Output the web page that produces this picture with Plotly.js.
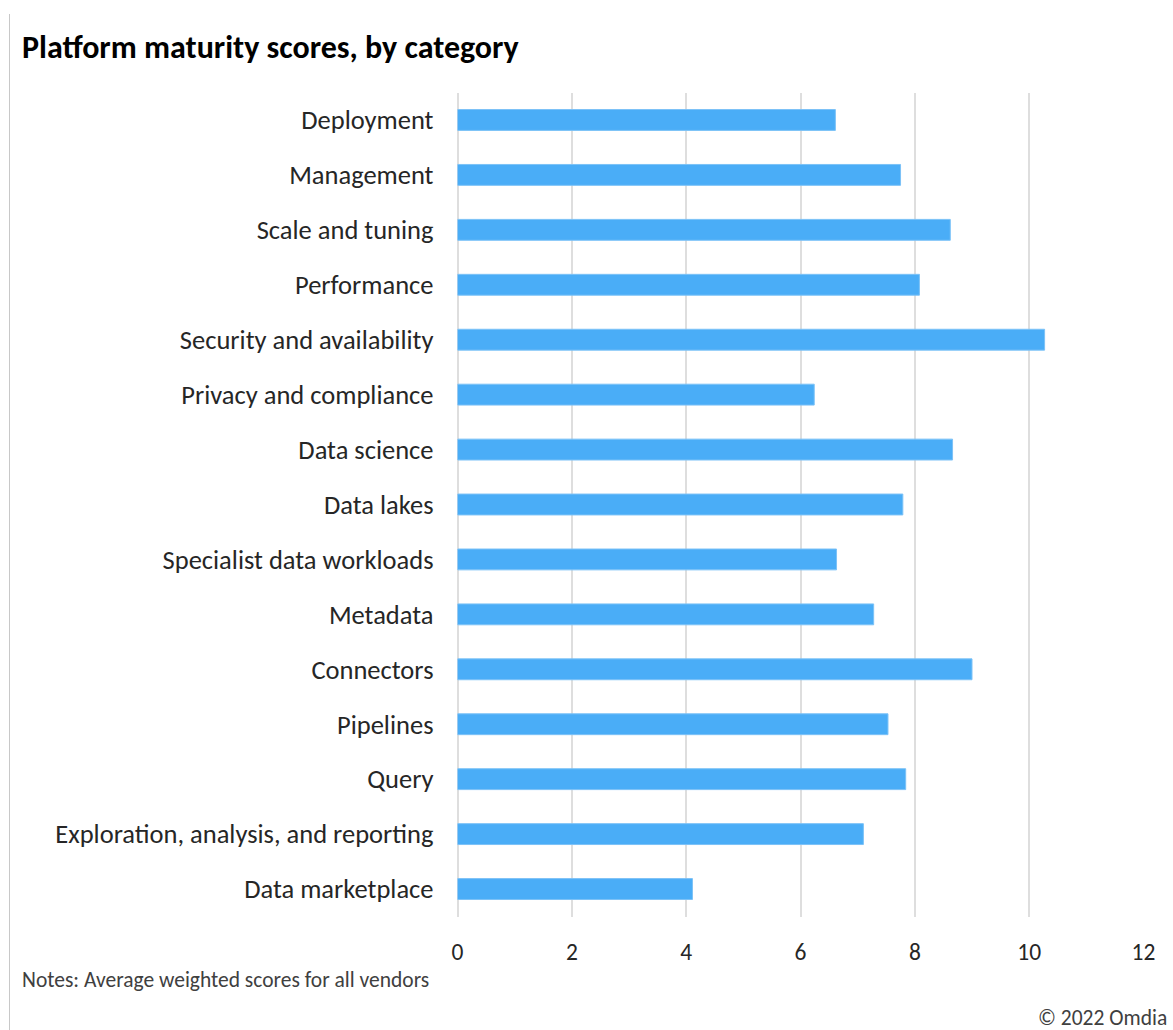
<!DOCTYPE html>
<html>
<head>
<meta charset="utf-8">
<script src="https://cdn.plot.ly/plotly-3.0.1.min.js"></script>
<style>html,body{margin:0;padding:0;background:#fff;}#chart{width:1173px;height:1030px;}</style>
</head>
<body>
<div id="chart"></div>
<script>
const categories = [
  "Deployment", "Management", "Scale and tuning", "Performance",
  "Security and availability", "Privacy and compliance", "Data science",
  "Data lakes", "Specialist data workloads", "Metadata", "Connectors",
  "Pipelines", "Query", "Exploration, analysis, and reporting", "Data marketplace"
];
const scores = [6.61, 7.75, 8.62, 8.08, 10.27, 6.24, 8.66, 7.79, 6.63, 7.28, 9.00, 7.53, 7.84, 7.10, 4.11];
const xTicks = [0, 2, 4, 6, 8, 10, 12];
const titleText = "Platform maturity scores, by category";
const notesText = "Notes: Average weighted scores for all vendors";
const sourceText = "© 2022 Omdia";

const W = 1173, H = 1030;
const FONT = "Calibri, Carlito, Lato, sans-serif";

const trace = {
  type: "bar",
  orientation: "h",
  y: categories,
  x: scores,
  marker: {color: "#4aadf7", line: {color: "#7cc2f7", width: 1}},
  hoverinfo: "skip"
};

const layout = {
  width: W, height: H,
  margin: {l: 0, r: 0, t: 0, b: 0},
  paper_bgcolor: "#ffffff",
  plot_bgcolor: "#ffffff",
  showlegend: false,
  bargap: 0.62,
  font: {family: FONT, color: "#262626"},
  title: {
    text: "<b>" + titleText + "</b>",
    font: {family: FONT, size: 32, color: "#000000"},
    xref: "container", yref: "container",
    x: 22 / W, xanchor: "left",
    y: 1 - 47 / H, yanchor: "middle"
  },
  xaxis: {
    domain: [457.5 / W, 1143.5 / W],
    range: [0, 12],
    tickvals: xTicks,
    ticktext: xTicks.map(String),
    showgrid: true,
    gridcolor: "#dedede",
    gridwidth: 2,
    zeroline: true,
    zerolinecolor: "#dedede",
    zerolinewidth: 2,
    showline: false,
    ticks: "",
    ticklabelstandoff: 19,
    tickfont: {family: FONT, size: 23.5, color: "#262626"},
    fixedrange: true
  },
  yaxis: {
    domain: [1 - 916.5 / H, 1 - 92.5 / H],
    type: "category",
    categoryorder: "array",
    categoryarray: categories,
    autorange: "reversed",
    showgrid: false,
    zeroline: false,
    showline: false,
    ticks: "",
    ticklabelstandoff: 23,
    tickfont: {family: FONT, size: 26.5, color: "#262626"},
    fixedrange: true
  },
  shapes: [{
    type: "line", xref: "paper", yref: "paper",
    x0: 9.5 / W, x1: 9.5 / W, y0: 1 - 14 / H, y1: 0,
    line: {color: "#c8c8c8", width: 1}
  }],
  annotations: [
    {
      text: notesText, showarrow: false,
      xref: "paper", yref: "paper",
      x: 20 / W, xanchor: "left",
      y: 1 - 980 / H, yanchor: "middle",
      font: {family: FONT, size: 21.5, color: "#404040"}
    },
    {
      text: sourceText, showarrow: false,
      xref: "paper", yref: "paper",
      x: 1169 / W, xanchor: "right",
      y: 1 - 1018 / H, yanchor: "middle",
      font: {family: FONT, size: 21.5, color: "#404040"}
    }
  ]
};

Plotly.newPlot("chart", [trace], layout, {displayModeBar: false, staticPlot: true});
</script>
</body>
</html>
